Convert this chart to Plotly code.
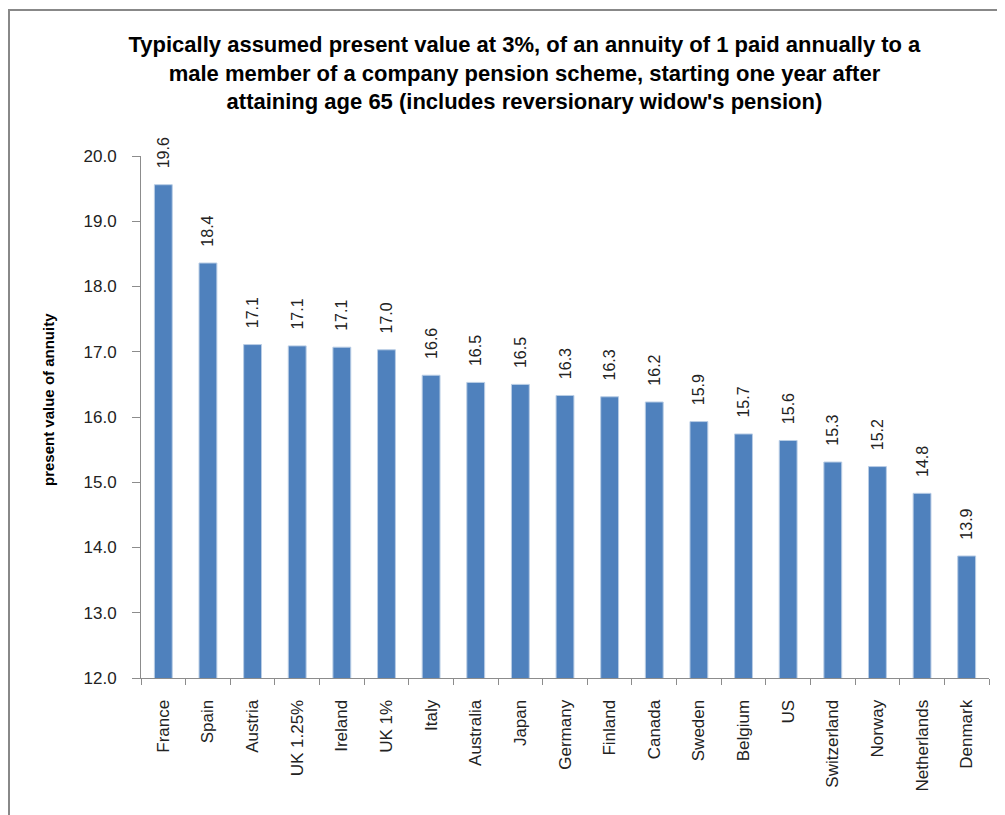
import plotly.graph_objects as go

countries = ["France", "Spain", "Austria", "UK 1.25%", "Ireland", "UK 1%", "Italy", "Australia",
             "Japan", "Germany", "Finland", "Canada", "Sweden", "Belgium", "US", "Switzerland",
             "Norway", "Netherlands", "Denmark"]
values = [19.56, 18.36, 17.11, 17.09, 17.07, 17.03, 16.64, 16.53, 16.50, 16.33, 16.31, 16.23,
          15.93, 15.74, 15.64, 15.31, 15.24, 14.83, 13.87]
y_ticks = [12, 13, 14, 15, 16, 17, 18, 19, 20]

OFF = 8  # default page body margin
W, H = 1005 - OFF, 815 - OFF
L, T = 141 - OFF, 156 - OFF
pw, ph = 848, 522
R, B = W - L - pw, H - T - ph

fig = go.Figure(go.Bar(
    x=countries, y=values,
    marker=dict(color="#4F81BD", line=dict(color="#B9CDE5", width=1)),
    width=0.4,
    texttemplate="\u00a0\u00a0\u00a0%{y:.1f}",
    textposition="outside", textangle=-90, constraintext="none",
    textfont=dict(family="Liberation Sans, Arial", size=16, color="#222222"),
    cliponaxis=False,
))

# screen pixel -> paper coordinate
def px_x(p):
    return (p - OFF - L) / pw

def px_y(p):
    return (T + ph - (p - OFF)) / ph

fig.update_layout(
    width=W, height=H,
    margin=dict(l=L, r=R, t=T, b=B),
    paper_bgcolor="white", plot_bgcolor="white",
    showlegend=False,
    title=dict(
        text="Typically assumed present value at 3%, of an annuity of 1 paid annually to a<br>"
             "male member of a company pension scheme, starting one year after<br>"
             "attaining age 65 (includes reversionary widow's pension)",
        x=0.518, xanchor="center", y=(H - 44) / H, yanchor="top",
        font=dict(family="Liberation Sans Narrow, Arial Narrow, Liberation Sans", size=22, color="black", weight="bold"),
    ),
    xaxis=dict(
        tickangle=-90,
        tickfont=dict(family="Liberation Sans, Arial", size=17, color="#222222"),
        showline=True, linecolor="#8c8c8c", linewidth=1,
        ticks="outside", ticklen=6, tickcolor="#8c8c8c", tickson="boundaries",
        ticklabelstandoff=14,
        showgrid=False,
    ),
    yaxis=dict(
        range=[12, 20],
        tickvals=y_ticks, ticktext=[f"{v:.1f}" for v in y_ticks],
        tickfont=dict(family="Liberation Sans, Arial", size=17, color="#222222"),
        showline=True, linecolor="#8c8c8c", linewidth=1,
        ticks="outside", ticklen=8, tickcolor="#8c8c8c",
        ticklabelstandoff=12,
        showgrid=False, zeroline=False,
    ),
    bargap=0.6,
    annotations=[dict(
        text="<b>present value of annuity</b>", textangle=-90,
        xref="paper", yref="paper", x=px_x(48), y=px_y(400),
        xanchor="center", yanchor="middle", showarrow=False,
        font=dict(family="Liberation Sans Narrow, Arial Narrow, Liberation Sans", size=15, color="black"),
    )],
    shapes=[dict(type="rect", xref="paper", yref="paper", layer="below",
                 x0=px_x(9), x1=px_x(1040), y0=px_y(10), y1=px_y(850),
                 line=dict(color="#888888", width=2), fillcolor="rgba(0,0,0,0)")],
)

fig.write_html("out.html", config={"displayModeBar": False})
